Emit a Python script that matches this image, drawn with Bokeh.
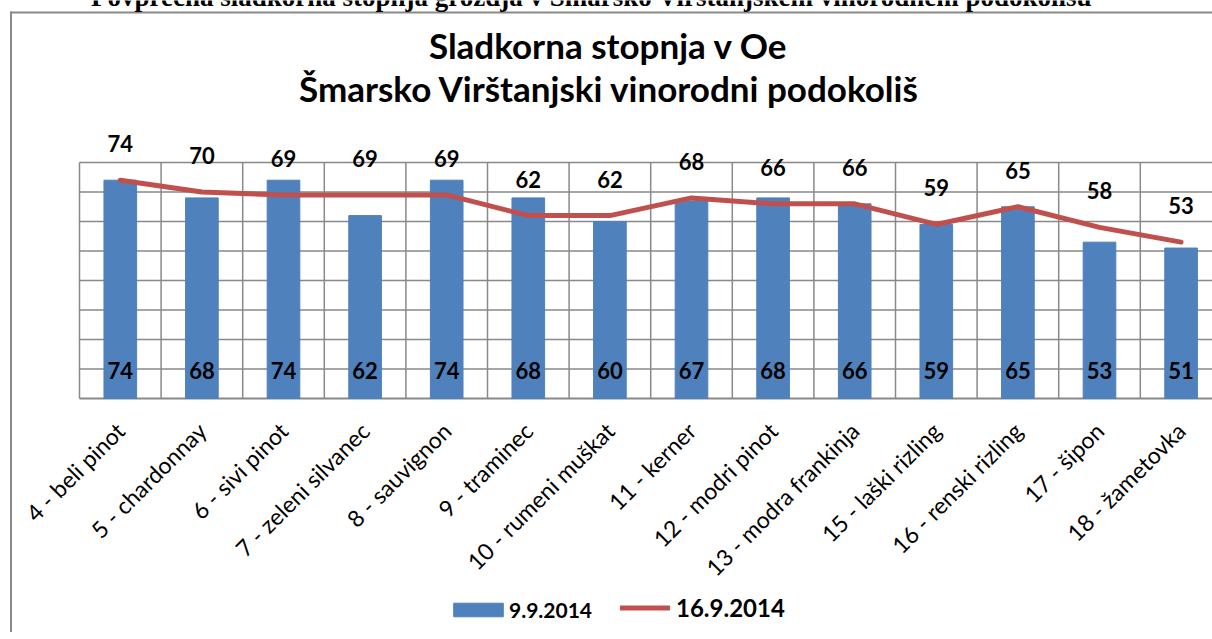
import math
from bokeh.plotting import figure
from bokeh.models import (Range1d, FixedTicker, ColumnDataSource, Label, Legend,
                          LegendItem, BoxAnnotation)
from bokeh.embed import file_html
from bokeh.resources import INLINE
from bokeh.core.properties import value

# ---------------- data ----------------
categories = ["4 - beli pinot", "5 - chardonnay", "6 - sivi pinot", "7 - zeleni silvanec",
              "8 - sauvignon", "9 - traminec", "10 - rumeni muškat", "11 - kerner",
              "12 - modri pinot", "13 - modra frankinja", "15 - laški rizling",
              "16 - renski rizling", "17 - šipon", "18 - žametovka"]
oe_09_09 = [74, 68, 74, 62, 74, 68, 60, 67, 68, 66, 59, 65, 53, 51]
oe_16_09 = [74, 70, 69, 69, 69, 62, 62, 68, 66, 66, 59, 65, 58, 53]
series_names = ["9.9.2014", "16.9.2014"]
y_ticks = [0, 10, 20, 30, 40, 50, 60, 70, 80]
title_lines = ["Sladkorna stopnja v Oe", "Šmarsko Virštanjski vinorodni podokoliš"]
doc_heading = "Povprečna sladkorna stopnja grozdja v Šmarsko Virštanjskem vinorodnem podokolišu"

# ---------------- styles / layout ----------------
BAR = "#4F81BD"
LINE = "#C0504D"
GRID = "#898989"
FONT = "Lato"
W, H = 1212, 632
PLOT_LEFT, AXIS_Y, PX_PER_CAT, PX_PER_UNIT = 79, 398, 81.6, 2.95

n = len(categories)
x_pos = [i + 0.5 for i in range(n)]
src = ColumnDataSource(dict(
    x=x_pos, v1=oe_09_09, v2=oe_16_09,
    t1=[str(v) for v in oe_09_09], t2=[str(v) for v in oe_16_09],
    base=[0] * n,
))

# grid built from the category boundaries and the value ticks
bounds = list(range(n + 1))
vgrid = ColumnDataSource(dict(x=bounds, y0=[y_ticks[0]] * len(bounds),
                              y1=[y_ticks[-1]] * len(bounds)))
hgrid = ColumnDataSource(dict(y=y_ticks[1:], x0=[0] * (len(y_ticks) - 1),
                              x1=[n] * (len(y_ticks) - 1)))
base_line = ColumnDataSource(dict(y=[y_ticks[0]], x0=[0], x1=[n]))

x_range = Range1d(-PLOT_LEFT / PX_PER_CAT, (W - PLOT_LEFT) / PX_PER_CAT)
y_range = Range1d(-(H - AXIS_Y) / PX_PER_UNIT, AXIS_Y / PX_PER_UNIT)

p = figure(width=W, height=H, x_range=x_range, y_range=y_range,
           output_backend="svg", toolbar_location=None, y_axis_location=None,
           min_border=0, min_border_left=0, min_border_right=0,
           min_border_top=0, min_border_bottom=0)
p.outline_line_color = None
p.background_fill_color = "white"
p.border_fill_color = "white"
p.xgrid.visible = False
p.ygrid.visible = False

# x axis drawn at value 0 inside the frame
ax = p.xaxis[0]
ax.fixed_location = 0
ax.ticker = FixedTicker(ticks=x_pos)
ax.major_label_overrides = {x: c for x, c in zip(x_pos, categories)}
ax.major_label_orientation = math.pi / 4
ax.major_label_text_font = FONT
ax.major_label_text_font_size = "23px"
ax.major_label_text_color = "black"
ax.major_label_standoff = 28
ax.major_tick_line_color = None
ax.major_tick_out = 0
ax.major_tick_in = 0
ax.minor_tick_line_color = None
ax.axis_line_color = None

# chart-area border: thin filled strips for the left and top edges
# (the rest of the frame is cut off, as in the source picture)
strip = dict(left_units="canvas", right_units="canvas", top_units="canvas",
             bottom_units="canvas", fill_color=GRID, fill_alpha=1, line_color=None)
p.add_layout(BoxAnnotation(left=9.5, right=11.5, top=11, bottom=H + 20, **strip))
p.add_layout(BoxAnnotation(left=9.5, right=W + 20, top=11, bottom=13, **strip))

# grid lines
p.segment(x0="x", x1="x", y0="y0", y1="y1", source=vgrid, line_color=GRID, line_width=1.5)
p.segment(x0="x0", x1="x1", y0="y", y1="y", source=hgrid, line_color=GRID, line_width=1.5)
p.segment(x0="x0", x1="x1", y0="y", y1="y", source=base_line, line_color=GRID, line_width=2)

# marks
r_bar = p.vbar(x="x", top="v1", width=0.4, source=src, fill_color=BAR, line_color=BAR)
r_line = p.line(x="x", y="v2", source=src, line_color=LINE, line_width=5,
                line_cap="round", line_join="round")

lab_kw = dict(text_font=value(FONT), text_font_style="bold", text_font_size="22px",
              text_color="black", text_align="center", text_baseline="middle")
p.text(x="x", y="base", text="t1", source=src, y_offset=-28, **lab_kw)
p.text(x="x", y="v2", text="t2", source=src, y_offset=-36.5, **lab_kw)

# legends (positions in px from the bottom-left corner of the plot)
leg1 = Legend(items=[LegendItem(label=series_names[0], renderers=[r_bar])],
              location=(447, 10), orientation="horizontal",
              glyph_width=62, glyph_height=17, label_standoff=0,
              padding=0, margin=0, spacing=0,
              label_text_font=FONT, label_text_font_style="bold",
              label_text_font_size="21px", label_text_color="black",
              border_line_color=None, background_fill_alpha=0)
leg2 = Legend(items=[LegendItem(label=series_names[1], renderers=[r_line])],
              location=(620, 10), orientation="horizontal",
              glyph_width=50, glyph_height=17, label_standoff=6,
              padding=0, margin=0, spacing=0,
              label_text_font=FONT, label_text_font_style="bold",
              label_text_font_size="24px", label_text_color="black",
              border_line_color=None, background_fill_alpha=0)
p.add_layout(leg1, "center")
p.add_layout(leg2, "center")

# titles
p.add_layout(Label(x=608, y=44, x_units="canvas", y_units="canvas", text=title_lines[0],
                   text_font=FONT, text_font_style="bold", text_font_size="35px",
                   text_align="center", text_baseline="alphabetic", text_color="black"))
p.add_layout(Label(x=609, y=87, x_units="canvas", y_units="canvas", text=title_lines[1],
                   text_font=FONT, text_font_style="bold", text_font_size="35px",
                   text_align="center", text_baseline="alphabetic", text_color="black"))
p.add_layout(Label(x=591, y=-4, x_units="canvas", y_units="canvas", text=doc_heading,
                   text_font="Liberation Serif", text_font_style="bold",
                   text_font_size="27px", text_align="center",
                   text_baseline="alphabetic", text_color="black"))

open("out.html", "w").write(file_html(p, INLINE))
